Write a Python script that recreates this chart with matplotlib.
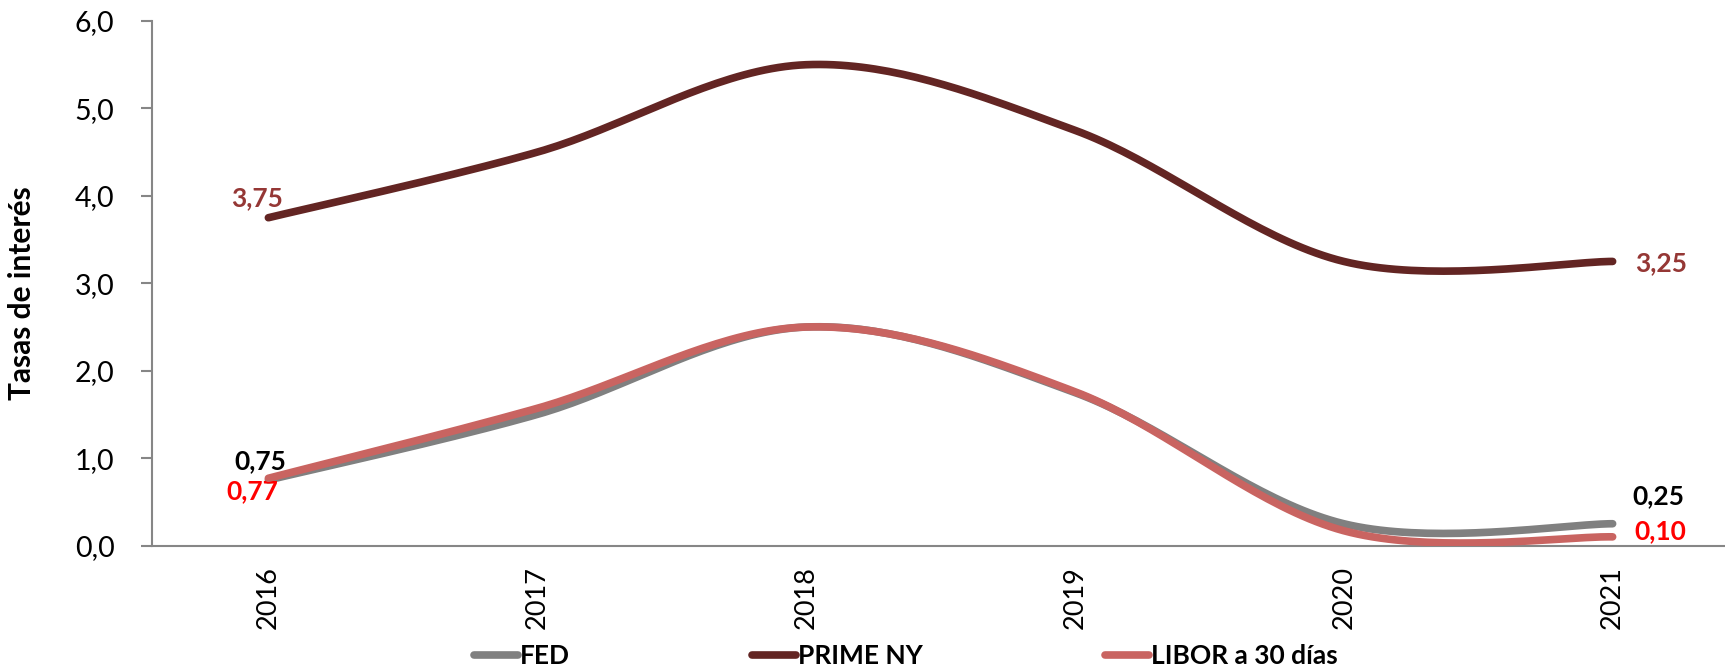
import numpy as np
import matplotlib
matplotlib.use("Agg")
import matplotlib.pyplot as plt
from matplotlib.ticker import FuncFormatter, MultipleLocator

plt.rcParams['font.family'] = ['Lato', 'DejaVu Sans']

years = ["2016", "2017", "2018", "2019", "2020", "2021"]
fed = [0.75, 1.50, 2.50, 1.75, 0.25, 0.25]
prime = [3.75, 4.50, 5.50, 4.75, 3.25, 3.25]
libor = [0.77, 1.57, 2.50, 1.76, 0.17, 0.10]

series_names = ["FED", "PRIME NY", "LIBOR a 30 días"]
colors = {"FED": "#808080", "PRIME NY": "#632523", "LIBOR a 30 días": "#C96461"}


def smooth(xs, ys, n=40):
    """Catmull-Rom style Bezier smoothing (like Excel smoothed lines)."""
    xs = np.asarray(xs, float)
    ys = np.asarray(ys, float)
    px = np.concatenate([[xs[0]], xs, [xs[-1]]])
    py = np.concatenate([[ys[0]], ys, [ys[-1]]])
    outx, outy = [], []
    t = np.linspace(0, 1, n)
    for i in range(1, len(px) - 2):
        p0x, p1x, p2x, p3x = px[i - 1], px[i], px[i + 1], px[i + 2]
        p0y, p1y, p2y, p3y = py[i - 1], py[i], py[i + 1], py[i + 2]
        c1x = p1x + (p2x - p0x) / 6
        c1y = p1y + (p2y - p0y) / 6
        c2x = p2x - (p3x - p1x) / 6
        c2y = p2y - (p3y - p1y) / 6
        bx = (1 - t) ** 3 * p1x + 3 * (1 - t) ** 2 * t * c1x + 3 * (1 - t) * t ** 2 * c2x + t ** 3 * p2x
        by = (1 - t) ** 3 * p1y + 3 * (1 - t) ** 2 * t * c1y + 3 * (1 - t) * t ** 2 * c2y + t ** 3 * p2y
        outx.append(bx)
        outy.append(by)
    return np.concatenate(outx), np.concatenate(outy)


fig = plt.figure(figsize=(17.25, 6.71), dpi=100)
ax = fig.add_axes([0.0881, 0.1869, 0.9119, 0.7818])

x = np.arange(len(years))
lines = {}
for name, vals, z in [("FED", fed, 2), ("PRIME NY", prime, 3), ("LIBOR a 30 días", libor, 4)]:
    sx, sy = smooth(x, vals)
    ln, = ax.plot(sx, sy, color=colors[name], lw=5.5, solid_capstyle='round', zorder=z, label=name)
    lines[name] = ln

ax.set_xlim(-0.433, 5.418)
ax.set_ylim(0, 6)
ax.yaxis.set_major_locator(MultipleLocator(1))
ax.yaxis.set_major_formatter(FuncFormatter(lambda v, p: f"{v:.1f}".replace(".", ",")))
ax.set_xticks(x)
ax.set_xticklabels(years, rotation=90, fontsize=19.5, va='top', ha='center')

for s in ["top", "right"]:
    ax.spines[s].set_visible(False)
for s in ["left", "bottom"]:
    ax.spines[s].set_color("#868686")
    ax.spines[s].set_linewidth(1.5)
ax.tick_params(axis='y', length=8, width=1.5, color="#868686", labelsize=20.5, pad=19)
ax.tick_params(axis='x', length=0, pad=15)

ax.set_ylabel("Tasas de interés", fontsize=21.5, fontweight='bold')
ax.yaxis.set_label_coords(-0.074, 0.482)

lab_fmt = lambda v: f"{v:.2f}".replace(".", ",")
lab_kw = dict(textcoords='offset pixels', fontsize=19, fontweight='bold', ha='center', va='center')
ax.annotate(lab_fmt(prime[0]), (x[0], prime[0]), xytext=(-11, 20), color="#953735", **lab_kw)
ax.annotate(lab_fmt(fed[0]), (x[0], fed[0]), xytext=(-8, 19), color="black", **lab_kw)
ax.annotate(lab_fmt(libor[0]), (x[0], libor[0]), xytext=(-16, -13), color="#FF0000", **lab_kw)
ax.annotate(lab_fmt(prime[-1]), (x[-1], prime[-1]), xytext=(48, -2), color="#953735", **lab_kw)
ax.annotate(lab_fmt(fed[-1]), (x[-1], fed[-1]), xytext=(46, 28), color="black", **lab_kw)
ax.annotate(lab_fmt(libor[-1]), (x[-1], libor[-1]), xytext=(48, 6), color="#FF0000", **lab_kw)

handles = [lines[n] for n in series_names]
fig.legend(handles, series_names, loc='center', bbox_to_anchor=(0.525, 0.022), ncol=3,
           frameon=False, prop={'weight': 'bold', 'size': 19}, handlelength=1.67,
           handletextpad=0.08, columnspacing=6.9)

fig.savefig("out.png", dpi=100)
